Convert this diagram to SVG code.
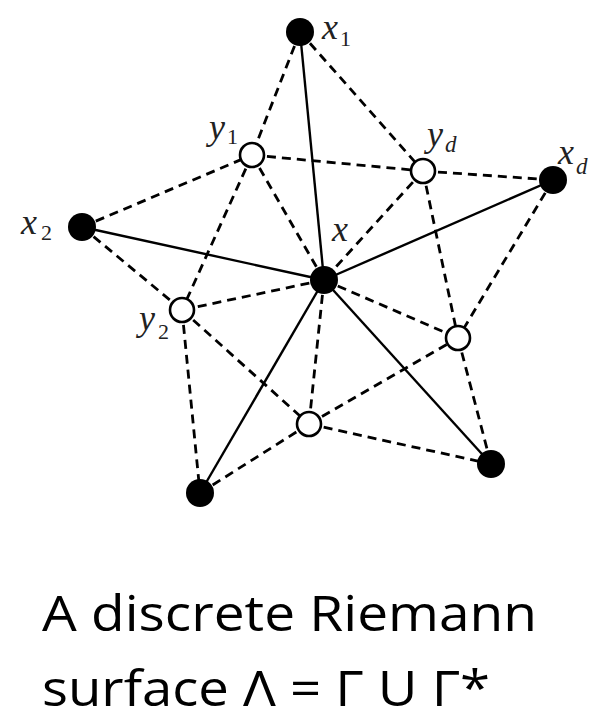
<svg xmlns="http://www.w3.org/2000/svg" width="592" height="727" viewBox="0 0 592 727">
<style>
.solid{stroke:#000;stroke-width:2.4;fill:none}
.dash{stroke:#000;stroke-width:2.8;stroke-dasharray:9 6;fill:none}
.black{fill:#000}
.white{fill:#fff;stroke:#000;stroke-width:2.6}
.lbl{font-family:"Liberation Serif",serif;font-style:italic;font-size:36px;fill:#222}
.sub{font-family:"Liberation Serif",serif;font-size:22px;fill:#222}
.subi{font-family:"Liberation Serif",serif;font-style:italic;font-size:23px;fill:#222}
.cap{font-family:"Open Sans",sans-serif;font-size:50px;fill:#000}
</style>
<rect width="592" height="727" fill="#fff"/>
<g id="connectors">
<line class="solid" x1="324" y1="280" x2="300" y2="32"/>
<line class="solid" x1="324" y1="280" x2="82" y2="227"/>
<line class="solid" x1="324" y1="280" x2="553" y2="180"/>
<line class="solid" x1="324" y1="280" x2="200" y2="493"/>
<line class="solid" x1="324" y1="280" x2="491" y2="464"/>
<line class="dash" x1="300" y1="32" x2="252" y2="155"/>
<line class="dash" x1="300" y1="32" x2="423" y2="171"/>
<line class="dash" x1="252" y1="155" x2="423" y2="171"/>
<line class="dash" x1="82" y1="227" x2="252" y2="155"/>
<line class="dash" x1="82" y1="227" x2="182" y2="310"/>
<line class="dash" x1="252" y1="155" x2="182" y2="310"/>
<line class="dash" x1="252" y1="155" x2="324" y2="280"/>
<line class="dash" x1="423" y1="171" x2="324" y2="280"/>
<line class="dash" x1="423" y1="171" x2="553" y2="180"/>
<line class="dash" x1="423" y1="171" x2="458" y2="338"/>
<line class="dash" x1="553" y1="180" x2="458" y2="338"/>
<line class="dash" x1="324" y1="280" x2="182" y2="310"/>
<line class="dash" x1="324" y1="280" x2="458" y2="338"/>
<line class="dash" x1="324" y1="280" x2="309" y2="424"/>
<line class="dash" x1="182" y1="310" x2="200" y2="493"/>
<line class="dash" x1="182" y1="310" x2="309" y2="424"/>
<line class="dash" x1="309" y1="424" x2="458" y2="338"/>
<line class="dash" x1="309" y1="424" x2="200" y2="493"/>
<line class="dash" x1="309" y1="424" x2="491" y2="464"/>
<line class="dash" x1="458" y1="338" x2="491" y2="464"/>
</g>
<g id="node-x1"><circle class="black" cx="300" cy="32" r="14"/><text class="lbl" x="322" y="39">x</text><text class="sub" x="340" y="46">1</text></g>
<g id="node-x2"><circle class="black" cx="82" cy="227" r="14"/><text class="lbl" x="21" y="234">x</text><text class="sub" x="41" y="240">2</text></g>
<g id="node-x"><circle class="black" cx="324" cy="280" r="14"/><text class="lbl" x="332" y="241">x</text></g>
<g id="node-xd"><circle class="black" cx="553" cy="180" r="14"/><text class="lbl" x="558" y="164">x</text><text class="subi" x="576" y="174">d</text></g>
<g id="node-bl"><circle class="black" cx="200" cy="493" r="14"/></g>
<g id="node-br"><circle class="black" cx="491" cy="464" r="14"/></g>
<g id="node-y1"><circle class="white" cx="252" cy="155" r="12"/><text class="lbl" x="209" y="139">y</text><text class="sub" x="227" y="144">1</text></g>
<g id="node-yd"><circle class="white" cx="423" cy="171" r="12"/><text class="lbl" x="427" y="146">y</text><text class="subi" x="445" y="152">d</text></g>
<g id="node-y2"><circle class="white" cx="182" cy="310" r="12"/><text class="lbl" x="139" y="330">y</text><text class="sub" x="158" y="339">2</text></g>
<g id="node-yr"><circle class="white" cx="458" cy="338" r="12"/></g>
<g id="node-yb"><circle class="white" cx="309" cy="424" r="12"/></g>
<g id="caption">
<text class="cap" x="42" y="631" textLength="495" lengthAdjust="spacingAndGlyphs">A discrete Riemann</text>
<text class="cap" x="42" y="706" textLength="448" lengthAdjust="spacingAndGlyphs">surface Λ = Γ U Γ*</text>
</g>
</svg>
